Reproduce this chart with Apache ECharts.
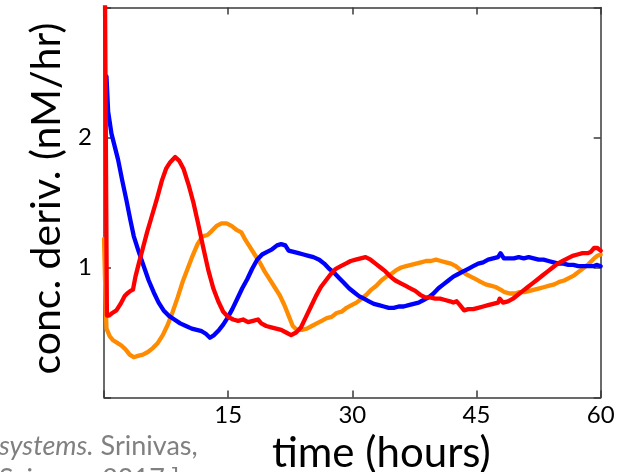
<!DOCTYPE html>
<html>
<head>
<meta charset="utf-8">
<script src="https://cdn.jsdelivr.net/npm/echarts@6/dist/echarts.min.js"></script>
<style>
html,body{margin:0;padding:0;background:#fff;}
#chart{width:639px;height:472px;}
</style>
</head>
<body>
<div id="chart"></div>
<script>
// ---- data (time in hours, value in nM/hr) ----
const xTicks = [0, 15, 30, 45, 60];
const yTicks = [0, 1, 2, 3];

const redT = [0.1,0.35,0.6,1.0,1.5,2.0,2.5,2.8,3.2,3.5,3.8,4.2,4.7,5.2,5.8,6.4,7.0,7.5,8.0,8.6,9.1,9.6,10.2,10.8,11.4,12.0,12.6,13.2,13.8,14.4,15.0,15.6,16.2,16.8,17.4,18.0,18.6,19.0,19.6,20.2,20.8,21.4,22.0,22.6,23.2,23.8,24.4,25.0,25.6,26.2,26.8,27.4,28.0,28.6,29.2,29.8,30.4,31.0,31.6,32.2,32.8,33.4,34.0,34.6,35.2,35.8,36.4,37.0,37.6,38.2,38.8,39.4,40.0,40.6,41.2,41.8,42.2,42.6,43.0,43.5,44.0,44.6,45.2,45.8,46.4,47.0,47.6,47.8,48.2,48.8,49.4,50.0,50.6,51.2,51.8,52.4,53.0,53.6,54.2,54.8,55.4,56.0,56.6,57.2,57.8,58.4,58.8,59.2,59.6,60];
const redV = [3.3,0.63,0.63,0.65,0.67,0.72,0.78,0.80,0.82,0.83,0.93,1.03,1.15,1.27,1.40,1.53,1.67,1.76,1.81,1.85,1.82,1.76,1.64,1.50,1.33,1.15,0.98,0.84,0.74,0.66,0.62,0.60,0.59,0.60,0.58,0.59,0.60,0.57,0.55,0.54,0.53,0.52,0.50,0.48,0.50,0.54,0.62,0.70,0.78,0.85,0.90,0.95,0.99,1.01,1.03,1.05,1.06,1.07,1.08,1.06,1.03,1.00,0.97,0.93,0.90,0.88,0.86,0.84,0.82,0.79,0.77,0.77,0.76,0.76,0.75,0.74,0.73,0.74,0.71,0.67,0.68,0.68,0.69,0.70,0.71,0.72,0.73,0.76,0.73,0.74,0.76,0.79,0.82,0.85,0.88,0.91,0.94,0.97,1.00,1.03,1.05,1.07,1.09,1.10,1.11,1.11,1.12,1.15,1.15,1.13];

const blueT = [0.3,0.5,0.9,1.3,1.7,2.2,2.7,3.2,3.6,4.2,4.8,5.4,6.0,6.6,7.2,7.8,8.5,9.2,9.9,10.6,11.2,11.8,12.3,12.8,13.3,13.9,14.4,14.9,15.5,16.1,16.7,17.3,17.9,18.5,19.1,19.7,20.3,20.9,21.4,21.9,22.3,22.9,23.5,24.1,24.7,25.3,26.0,26.6,27.2,27.8,28.4,29.0,29.6,30.2,30.8,31.4,32.0,32.6,33.2,33.8,34.4,35.0,35.6,36.2,36.8,37.4,38.0,38.6,39.2,39.8,40.4,41.0,41.6,42.2,42.8,43.4,44.0,44.6,45.2,45.8,46.4,47.0,47.6,47.9,48.3,48.9,49.5,50.1,50.7,51.3,51.9,52.5,53.1,53.7,54.3,54.9,55.5,56.1,56.7,57.3,57.9,58.5,59.1,59.5,60];
const blueV = [2.47,2.20,2.03,1.93,1.83,1.67,1.52,1.36,1.24,1.12,1.01,0.90,0.81,0.73,0.67,0.63,0.60,0.57,0.55,0.53,0.52,0.51,0.49,0.46,0.48,0.52,0.56,0.61,0.68,0.76,0.84,0.91,0.99,1.06,1.10,1.12,1.14,1.17,1.18,1.17,1.13,1.12,1.11,1.10,1.09,1.08,1.06,1.03,0.99,0.96,0.92,0.88,0.84,0.81,0.78,0.76,0.74,0.72,0.71,0.70,0.69,0.69,0.70,0.70,0.71,0.72,0.73,0.75,0.77,0.80,0.84,0.87,0.90,0.93,0.95,0.97,0.99,1.01,1.03,1.04,1.06,1.07,1.08,1.11,1.07,1.07,1.07,1.08,1.07,1.08,1.07,1.06,1.06,1.05,1.04,1.03,1.03,1.02,1.02,1.01,1.01,1.01,1.01,1.02,1.01];

const orangeT = [0,0.15,0.3,0.7,1.1,1.6,2.1,2.6,3.1,3.6,4.1,4.7,5.3,5.9,6.5,7.1,7.7,8.3,8.9,9.5,10.1,10.7,11.3,11.9,12.5,13.0,13.6,14.2,14.8,15.4,16.0,16.6,17.1,17.6,18.2,18.8,19.4,20.0,20.6,21.2,21.8,22.3,22.8,23.3,23.9,24.5,25.1,25.7,26.3,26.9,27.5,28.1,28.7,29.3,29.9,30.5,31.1,31.7,32.3,32.9,33.5,34.1,34.7,35.3,35.9,36.5,37.1,37.7,38.3,38.9,39.5,40.1,40.7,41.3,41.9,42.5,43.1,43.7,44.3,44.9,45.5,46.1,46.7,47.3,47.9,48.4,49.0,49.6,50.2,50.8,51.4,52.0,52.6,53.2,53.8,54.4,55.0,55.6,56.2,56.8,57.4,58.0,58.6,59.2,59.6,60];
const orangeV = [1.22,0.85,0.53,0.47,0.44,0.42,0.40,0.37,0.33,0.31,0.32,0.33,0.35,0.38,0.42,0.48,0.56,0.66,0.77,0.89,0.99,1.09,1.18,1.24,1.25,1.28,1.32,1.34,1.34,1.32,1.29,1.27,1.21,1.16,1.10,1.04,0.97,0.91,0.85,0.79,0.71,0.63,0.55,0.52,0.52,0.53,0.55,0.57,0.59,0.61,0.62,0.65,0.66,0.69,0.71,0.73,0.76,0.79,0.83,0.86,0.90,0.93,0.95,0.98,1.00,1.01,1.02,1.03,1.04,1.05,1.05,1.06,1.05,1.04,1.03,1.01,0.98,0.95,0.93,0.91,0.89,0.87,0.86,0.85,0.83,0.81,0.80,0.80,0.81,0.81,0.82,0.83,0.84,0.85,0.86,0.87,0.89,0.90,0.92,0.94,0.97,1.00,1.03,1.07,1.09,1.10];

const xTitle = 'time (hours)';
const yTitle = 'conc. deriv. (nM/hr)';

// ---- chart ----
const pairs = (t, v) => t.map((x, i) => [x, v[i]]);
const FONT = 'Lato';
const axisColor = '#3a3a3a';
const lineStyleAxis = { color: axisColor, width: 1.5 };

const chart = echarts.init(document.getElementById('chart'), null, { renderer: 'canvas' });

function mkSeries(name, t, v, color) {
  return {
    name, type: 'line', data: pairs(t, v), showSymbol: false, symbol: 'none',
    lineStyle: { color, width: 4.3, join: 'round', cap: 'round' },
    itemStyle: { color }, smooth: false, animation: false, clip: true,
    xAxisIndex: 0, yAxisIndex: 0
  };
}

chart.setOption({
  animation: false,
  backgroundColor: '#ffffff',
  grid: { left: 104, right: 38.3, top: 7.5, bottom: 74.5, containLabel: false, outerBoundsMode: 'none' },
  xAxis: [{
    type: 'value', position: 'bottom', min: xTicks[0], max: xTicks[xTicks.length - 1], interval: 15,
    axisLine: { show: true, onZero: false, lineStyle: lineStyleAxis },
    axisTick: { show: true, inside: true, length: 7, lineStyle: lineStyleAxis },
    axisLabel: { show: true, margin: 6, fontSize: 24, fontFamily: FONT, color: '#000',
      formatter: v => (v === 0 ? '' : String(v)) },
    splitLine: { show: false },
    name: xTitle, nameLocation: 'middle', nameGap: 23,
    nameTextStyle: { fontSize: 42, fontFamily: FONT, color: '#000', padding: [0, 0, 0, 58] }
  }, {
    type: 'value', position: 'top', min: xTicks[0], max: xTicks[xTicks.length - 1], interval: 15,
    axisLine: { show: true, onZero: false, lineStyle: lineStyleAxis },
    axisTick: { show: true, inside: true, length: 7, lineStyle: lineStyleAxis },
    axisLabel: { show: false }, splitLine: { show: false }
  }],
  yAxis: [{
    type: 'value', position: 'left', min: yTicks[0], max: yTicks[yTicks.length - 1], interval: 1,
    axisLine: { show: true, onZero: false, lineStyle: lineStyleAxis },
    axisTick: { show: true, inside: true, length: 7, lineStyle: lineStyleAxis },
    axisLabel: { show: true, margin: 12, fontSize: 24, fontFamily: FONT, color: '#000',
      formatter: v => (v === 1 || v === 2 ? String(v) : '') },
    splitLine: { show: false },
    name: yTitle, nameLocation: 'middle', nameGap: 33, nameRotate: 90,
    nameTextStyle: { fontSize: 41, fontFamily: FONT, color: '#000', padding: [0, 0, 0, 8] }
  }, {
    type: 'value', position: 'right', min: yTicks[0], max: yTicks[yTicks.length - 1], interval: 1,
    axisLine: { show: true, onZero: false, lineStyle: lineStyleAxis },
    axisTick: { show: true, inside: true, length: 7, lineStyle: lineStyleAxis },
    axisLabel: { show: false }, splitLine: { show: false }
  }],
  series: [
    mkSeries('orange', orangeT, orangeV, '#ff8c00'),
    mkSeries('blue', blueT, blueV, '#0000ff'),
    mkSeries('red', redT, redV, '#ff0000')
  ],
  graphic: [{
    type: 'text', left: -1, top: 430, silent: true,
    style: {
      text: '{i|systems.} Srinivas,\nScience, 2017.]',
      fill: '#808080', font: '27px Lato', lineHeight: 33,
      rich: { i: { fontStyle: 'italic', fontSize: 27, fontFamily: FONT, fill: '#808080', lineHeight: 33 } }
    }
  }]
});
</script>
</body>
</html>
